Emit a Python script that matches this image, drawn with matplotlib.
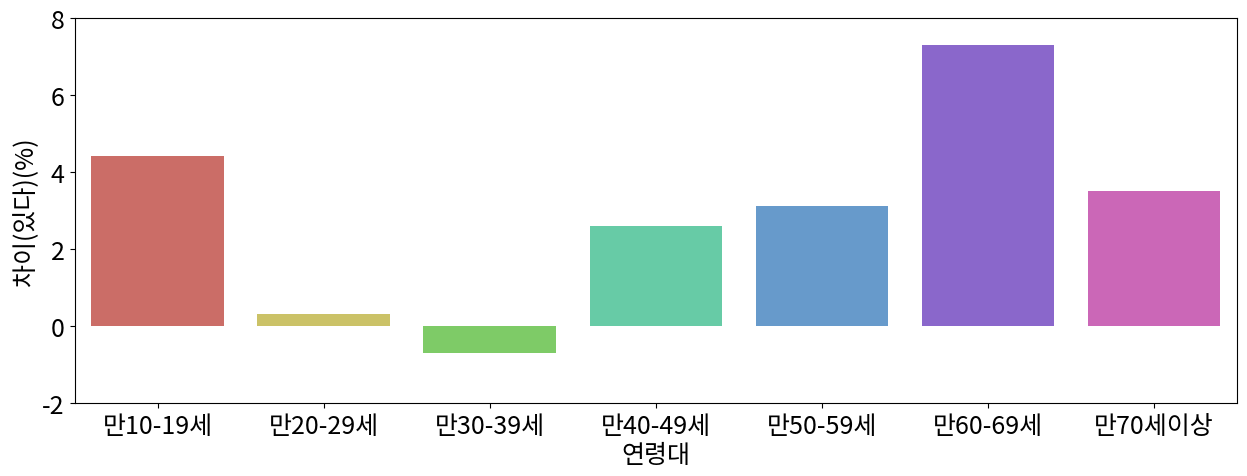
import matplotlib
matplotlib.use("Agg")
import matplotlib.pyplot as plt
import seaborn as sns

# 연령대별 차이(있다) 값 (%)
age_groups = ["만10-19세", "만20-29세", "만30-39세", "만40-49세",
              "만50-59세", "만60-69세", "만70세이상"]
diff_values = [4.42, 0.31, -0.69, 2.60, 3.12, 7.30, 3.51]

plt.rcParams["font.family"] = ["Noto Sans CJK KR", "DejaVu Sans"]
plt.rcParams["axes.unicode_minus"] = False
plt.rcParams["font.size"] = 18

fig, ax = plt.subplots(figsize=(12.47, 4.77), dpi=100)
fig.subplots_adjust(left=0.060, right=0.992, top=0.960, bottom=0.153)

sns.barplot(x=age_groups, y=diff_values, hue=age_groups, palette="hls",
            legend=False, ax=ax)

ax.set_ylim(-2, 8)
ax.set_yticks([-2, 0, 2, 4, 6, 8])
ax.set_xlabel("연령대", fontsize=18, labelpad=2)
ax.set_ylabel("차이(있다)(%)", fontsize=18, labelpad=2)
ax.tick_params(labelsize=18, pad=4)

fig.savefig("out.png", dpi=100)
